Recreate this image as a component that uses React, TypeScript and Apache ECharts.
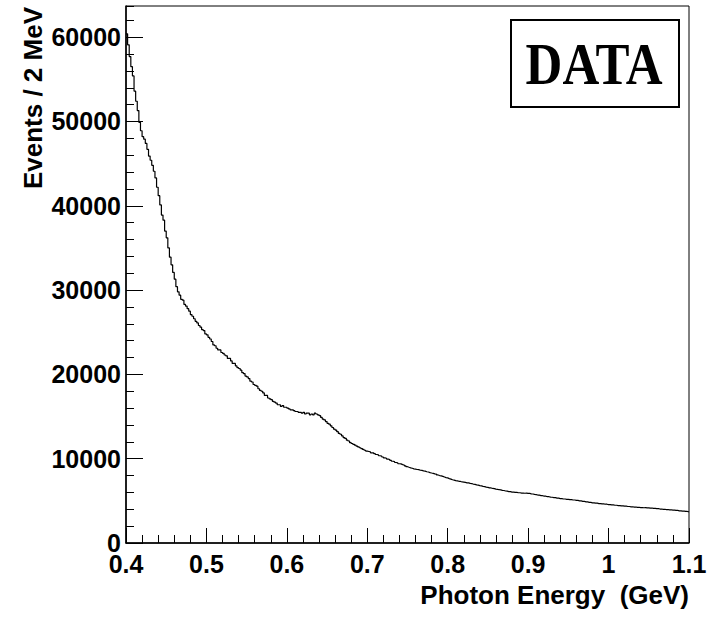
import React, { useEffect, useRef } from "react";
import * as echarts from "echarts";

// Histogram: photon energy, 2 MeV bins from 0.40 to 1.10 GeV
const binStart = 0.4;
const binWidth = 0.002;

// counts per bin, in segments of 0.1 GeV (50 bins each)
const counts040to050 = [
  60400, 59100, 57700, 56500, 55400, 53600, 52400, 51300, 49900, 48900,
  48200, 47900, 47400, 46700, 45900, 45400, 44800, 44100, 43300, 42200,
  41200, 40100, 38900, 38300, 37000, 36200, 35000, 33900, 33000, 32100,
  31300, 30400, 29800, 29400, 28900, 28800, 28300, 28100, 27800, 27500,
  27100, 26900, 26600, 26300, 26100, 25800, 25600, 25300, 25200, 24800,
];
const counts050to060 = [
  24700, 24400, 24200, 23900, 23500, 23400, 23100, 22900, 22900, 22600,
  22500, 22300, 22200, 21900, 21900, 21600, 21300, 21300, 21000, 20800,
  20700, 20500, 20200, 20100, 19800, 19700, 19500, 19200, 19100, 18800,
  18700, 18600, 18300, 18100, 18000, 17800, 17500, 17500, 17200, 17100,
  17000, 16800, 16700, 16600, 16400, 16400, 16200, 16300, 16100, 16100,
];
const counts060to070 = [
  16000, 15900, 15800, 15800, 15700, 15600, 15600, 15500, 15500, 15400,
  15500, 15300, 15400, 15400, 15200, 15300, 15200, 15400, 15300, 15200,
  15100, 14900, 14700, 14600, 14400, 14200, 14100, 13900, 13700, 13500,
  13400, 13200, 13000, 12900, 12700, 12500, 12400, 12200, 12100, 11900,
  11800, 11700, 11600, 11500, 11400, 11300, 11200, 11100, 11000, 10900,
];
const counts070to080 = [
  10850, 10800, 10700, 10700, 10600, 10500, 10450, 10350, 10300, 10200,
  10100, 10050, 9950, 9900, 9800, 9700, 9650, 9550, 9500, 9400,
  9380, 9300, 9250, 9150, 9050, 8980, 8920, 8870, 8800, 8760,
  8720, 8700, 8630, 8610, 8550, 8520, 8450, 8420, 8350, 8300,
  8260, 8200, 8160, 8070, 8000, 7960, 7900, 7830, 7760, 7720,
];
const counts080to090 = [
  7640, 7580, 7500, 7460, 7400, 7370, 7320, 7300, 7240, 7230,
  7190, 7140, 7130, 7070, 7050, 6970, 6950, 6890, 6860, 6800,
  6770, 6710, 6690, 6630, 6600, 6540, 6530, 6470, 6450, 6390,
  6370, 6320, 6300, 6240, 6230, 6170, 6150, 6100, 6090, 6040,
  6040, 6000, 6000, 5960, 5960, 5920, 5930, 5900, 5910, 5880,
];
const counts090to100 = [
  5880, 5830, 5810, 5760, 5740, 5690, 5670, 5620, 5610, 5560,
  5550, 5500, 5490, 5440, 5430, 5390, 5380, 5330, 5320, 5270,
  5260, 5220, 5220, 5180, 5180, 5140, 5140, 5100, 5100, 5060,
  5050, 5000, 4990, 4940, 4930, 4880, 4870, 4820, 4810, 4760,
  4760, 4720, 4720, 4680, 4680, 4640, 4640, 4600, 4600, 4560,
];
const counts100to110 = [
  4560, 4520, 4520, 4480, 4480, 4440, 4440, 4400, 4410, 4370,
  4370, 4330, 4330, 4290, 4300, 4260, 4270, 4230, 4240, 4200,
  4210, 4180, 4190, 4160, 4170, 4140, 4150, 4110, 4110, 4070,
  4070, 4030, 4030, 3990, 4000, 3960, 3970, 3930, 3940, 3900,
  3900, 3860, 3860, 3820, 3820, 3780, 3790, 3750, 3740, 3690,
];

const xTickValues = [0.4, 0.5, 0.6, 0.7, 0.8, 0.9, 1.0, 1.1];
const yMax = 63700;
const xTitle = "Photon Energy  (GeV)";
const yTitle = "Events / 2 MeV";
const boxLabel = "DATA";

const allCounts = [
  ...counts040to050,
  ...counts050to060,
  ...counts060to070,
  ...counts070to080,
  ...counts080to090,
  ...counts090to100,
  ...counts100to110,
];

export default function App() {
  const ref = useRef<HTMLDivElement>(null);
  useEffect(() => {
    if (!ref.current) return;
    const chart = echarts.init(ref.current, null, { renderer: "svg" });
    const data: [number, number][] = allCounts.map((c, i) => [
      +(binStart + i * binWidth).toFixed(4),
      c,
    ]);
    const xEnd = +(binStart + allCounts.length * binWidth).toFixed(4);
    data.push([xEnd, allCounts[allCounts.length - 1]]);
    const font = "Liberation Sans, Arial, Helvetica, sans-serif";
    chart.setOption({
      animation: false,
      backgroundColor: "#fff",
      grid: {
        left: 126,
        right: 27,
        top: 6,
        bottom: 78,
        show: true,
        borderColor: "#000",
        borderWidth: 1,
        containLabel: false,
        outerBoundsMode: "none",
      },
      xAxis: {
        type: "value",
        min: xTickValues[0],
        max: xTickValues[xTickValues.length - 1],
        interval: 0.1,
        axisLine: { show: true, onZero: false, lineStyle: { color: "#000", width: 1.5 } },
        axisTick: { show: true, inside: true, length: 15, lineStyle: { color: "#000", width: 1 } },
        minorTick: { show: true, splitNumber: 5, length: 8, lineStyle: { color: "#000", width: 1 } },
        splitLine: { show: false },
        axisLabel: {
          show: true,
          margin: 8,
          color: "#000",
          fontFamily: font,
          fontWeight: "bold",
          fontSize: 25,
          formatter: (v: number) => String(Math.round(v * 10) / 10),
        },
      },
      yAxis: [
        {
          type: "value",
          min: 0,
          max: yMax,
          interval: 10000,
          axisLine: { show: true, onZero: false, lineStyle: { color: "#000", width: 1.5 } },
          axisTick: { show: true, inside: true, length: 17, lineStyle: { color: "#000", width: 1 } },
          splitLine: { show: false },
          axisLabel: {
            show: true,
            margin: 5,
            color: "#000",
            fontFamily: font,
            fontWeight: "bold",
            fontSize: 25,
            padding: [6, 0, 0, 0],
            showMaxLabel: false,
            formatter: (v: number) => String(Math.round(v)),
          },
        },
        {
          type: "value",
          position: "left",
          min: 0,
          max: yMax,
          interval: 2000,
          axisLine: { show: false },
          axisTick: { show: true, inside: true, length: 8, lineStyle: { color: "#000", width: 1 } },
          splitLine: { show: false },
          axisLabel: { show: false },
        },
      ],
      series: [
        {
          type: "line",
          step: "end",
          data,
          xAxisIndex: 0,
          yAxisIndex: 0,
          showSymbol: false,
          symbol: "none",
          clip: true,
          lineStyle: { color: "#000", width: 1.2 },
        },
      ],
      graphic: [
        {
          type: "text",
          x: 689,
          y: 595,
          style: {
            text: xTitle,
            fill: "#000",
            font: `bold 26px ${font}`,
            align: "right",
            verticalAlign: "middle",
          },
        },
        {
          type: "text",
          x: 33,
          y: 7,
          rotation: Math.PI / 2,
          style: {
            text: yTitle,
            fill: "#000",
            font: `bold 26px ${font}`,
            align: "right",
            verticalAlign: "middle",
          },
        },
        {
          type: "rect",
          shape: { x: 511, y: 20, width: 168, height: 87 },
          style: { fill: "#fff", stroke: "#000", lineWidth: 2 },
        },
        {
          type: "text",
          x: 594,
          y: 64,
          scaleY: 1.15,
          style: {
            text: boxLabel,
            fill: "#000",
            font: "bold 51px 'Liberation Serif', 'Times New Roman', serif",
            align: "center",
            verticalAlign: "middle",
          },
        },
      ],
    });
    return () => chart.dispose();
  }, []);
  return (
    <div
      ref={ref}
      style={{ position: "absolute", left: 0, top: 0, width: 716, height: 621 }}
    />
  );
}
